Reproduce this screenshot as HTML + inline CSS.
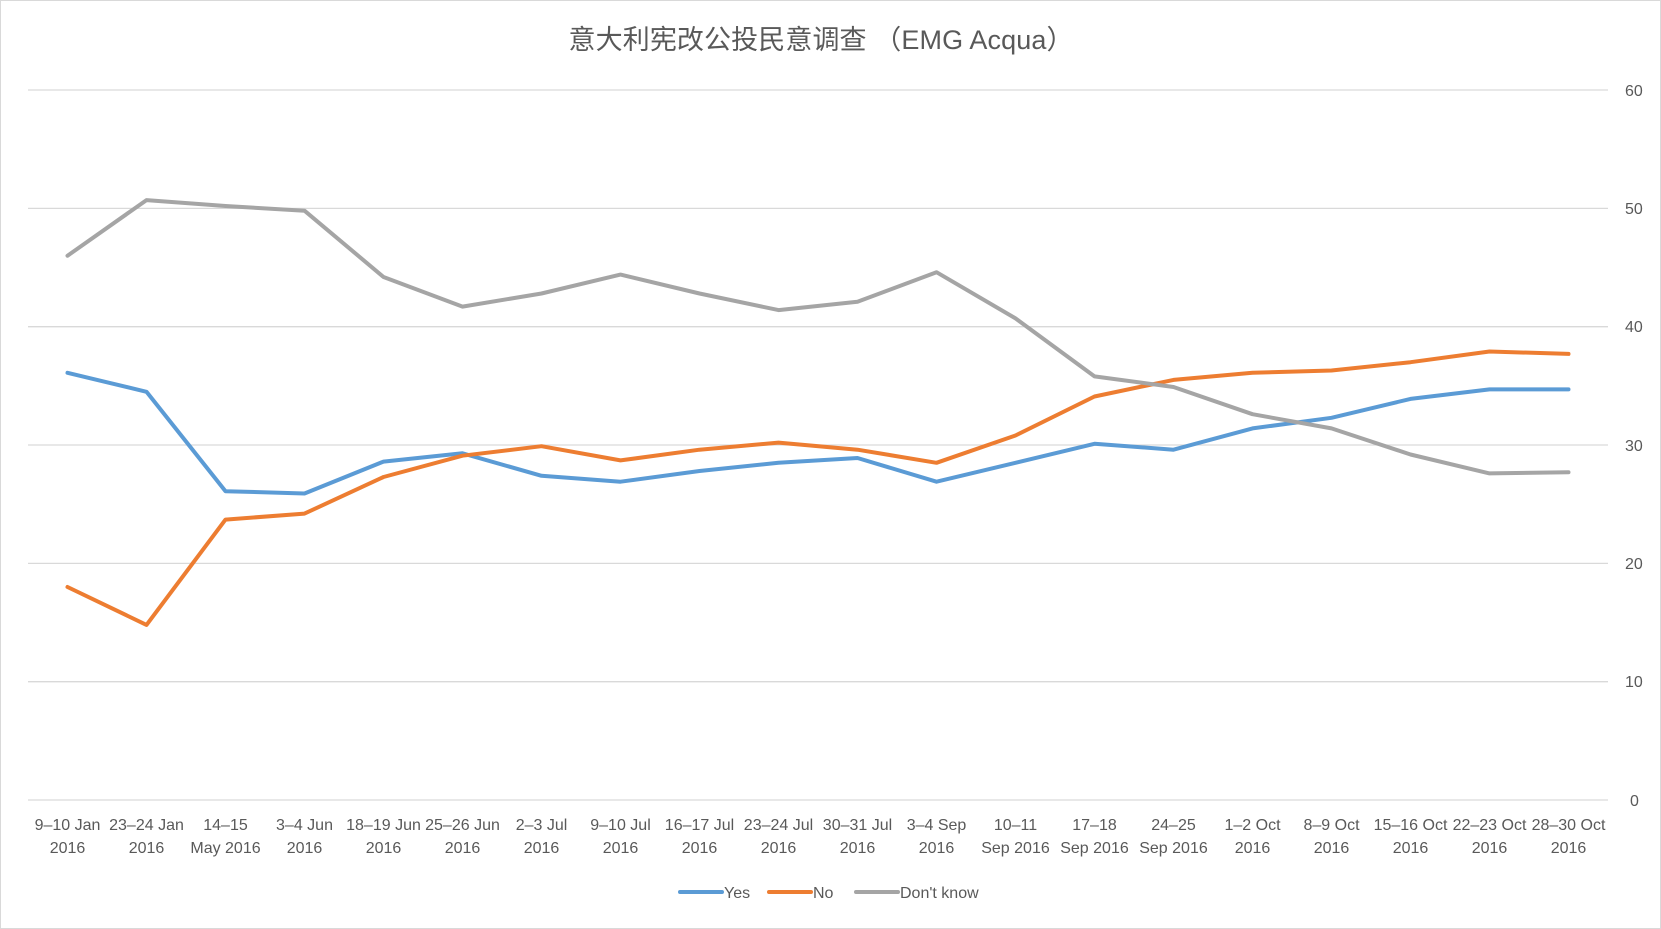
<!DOCTYPE html>
<html><head><meta charset="utf-8"><style>
body{margin:0;background:#fff}
svg{display:block}
text{font-family:"Liberation Sans","Noto Sans CJK SC",sans-serif;fill:#595959}
</style></head><body>
<svg id="s" width="1661" height="929" viewBox="0 0 1661 929">
<rect x="0.5" y="0.5" width="1660" height="928" fill="#fff" stroke="#d9d9d9"/>
<text x="821" y="49" font-size="27" text-anchor="middle" textLength="505" lengthAdjust="spacing">意大利宪改公投民意调查 （EMG Acqua）</text>
<g stroke="#d9d9d9" stroke-width="1.3" id="grid"></g>
<g font-size="16" text-anchor="middle">
<text x="67.5" y="830">9–10 Jan<tspan x="67.5" dy="23">2016</tspan></text>
<text x="146.5" y="830">23–24 Jan<tspan x="146.5" dy="23">2016</tspan></text>
<text x="225.5" y="830">14–15<tspan x="225.5" dy="23">May 2016</tspan></text>
<text x="304.5" y="830">3–4 Jun<tspan x="304.5" dy="23">2016</tspan></text>
<text x="383.5" y="830">18–19 Jun<tspan x="383.5" dy="23">2016</tspan></text>
<text x="462.5" y="830">25–26 Jun<tspan x="462.5" dy="23">2016</tspan></text>
<text x="541.5" y="830">2–3 Jul<tspan x="541.5" dy="23">2016</tspan></text>
<text x="620.5" y="830">9–10 Jul<tspan x="620.5" dy="23">2016</tspan></text>
<text x="699.5" y="830">16–17 Jul<tspan x="699.5" dy="23">2016</tspan></text>
<text x="778.5" y="830">23–24 Jul<tspan x="778.5" dy="23">2016</tspan></text>
<text x="857.5" y="830">30–31 Jul<tspan x="857.5" dy="23">2016</tspan></text>
<text x="936.5" y="830">3–4 Sep<tspan x="936.5" dy="23">2016</tspan></text>
<text x="1015.5" y="830">10–11<tspan x="1015.5" dy="23">Sep 2016</tspan></text>
<text x="1094.5" y="830">17–18<tspan x="1094.5" dy="23">Sep 2016</tspan></text>
<text x="1173.5" y="830">24–25<tspan x="1173.5" dy="23">Sep 2016</tspan></text>
<text x="1252.5" y="830">1–2 Oct<tspan x="1252.5" dy="23">2016</tspan></text>
<text x="1331.5" y="830">8–9 Oct<tspan x="1331.5" dy="23">2016</tspan></text>
<text x="1410.5" y="830">15–16 Oct<tspan x="1410.5" dy="23">2016</tspan></text>
<text x="1489.5" y="830">22–23 Oct<tspan x="1489.5" dy="23">2016</tspan></text>
<text x="1568.5" y="830">28–30 Oct<tspan x="1568.5" dy="23">2016</tspan></text>
</g>
<text x="1625" y="96" font-size="16">60</text>
<text x="1625" y="214" font-size="16">50</text>
<text x="1625" y="332" font-size="16">40</text>
<text x="1625" y="451" font-size="16">30</text>
<text x="1625" y="569" font-size="16">20</text>
<text x="1625" y="687" font-size="16">10</text>
<text x="1630" y="806" font-size="16">0</text>
<g id="lines" fill="none" stroke-width="4" stroke-linejoin="round" stroke-linecap="round"></g>
<line x1="680" y1="892" x2="722" y2="892" stroke="#5b9bd5" stroke-width="4" stroke-linecap="round"/>
<text x="724" y="898" font-size="16">Yes</text>
<line x1="769" y1="892" x2="811" y2="892" stroke="#ed7d31" stroke-width="4" stroke-linecap="round"/>
<text x="813" y="898" font-size="16">No</text>
<line x1="856" y1="892" x2="898" y2="892" stroke="#a5a5a5" stroke-width="4" stroke-linecap="round"/>
<text x="900" y="898" font-size="16">Don't know</text>
</svg>
<script>
var g=document.getElementById('grid');
for(var i=0;i<=6;i++){var y=800-i*118.33;var l=document.createElementNS('http://www.w3.org/2000/svg','line');l.setAttribute('x1',28);l.setAttribute('x2',1608);l.setAttribute('y1',y);l.setAttribute('y2',y);g.appendChild(l);}
var S=[
['#5b9bd5',[36.1,34.5,26.1,25.9,28.6,29.3,27.4,26.9,27.8,28.5,28.9,26.9,28.5,30.1,29.6,31.4,32.3,33.9,34.7,34.7]],
['#ed7d31',[18.0,14.8,23.7,24.2,27.3,29.1,29.9,28.7,29.6,30.2,29.6,28.5,30.8,34.1,35.5,36.1,36.3,37.0,37.9,37.7]],
['#a5a5a5',[46.0,50.7,50.2,49.8,44.2,41.7,42.8,44.4,42.8,41.4,42.1,44.6,40.7,35.8,34.9,32.6,31.4,29.2,27.6,27.7]]];
var L=document.getElementById('lines');
S.forEach(function(s){var p=s[1].map(function(v,i){return (67.5+79*i)+','+(800-v*11.833).toFixed(1)}).join(' ');
var e=document.createElementNS('http://www.w3.org/2000/svg','polyline');e.setAttribute('points',p);e.setAttribute('stroke',s[0]);L.appendChild(e);});
</script>
</body></html>
